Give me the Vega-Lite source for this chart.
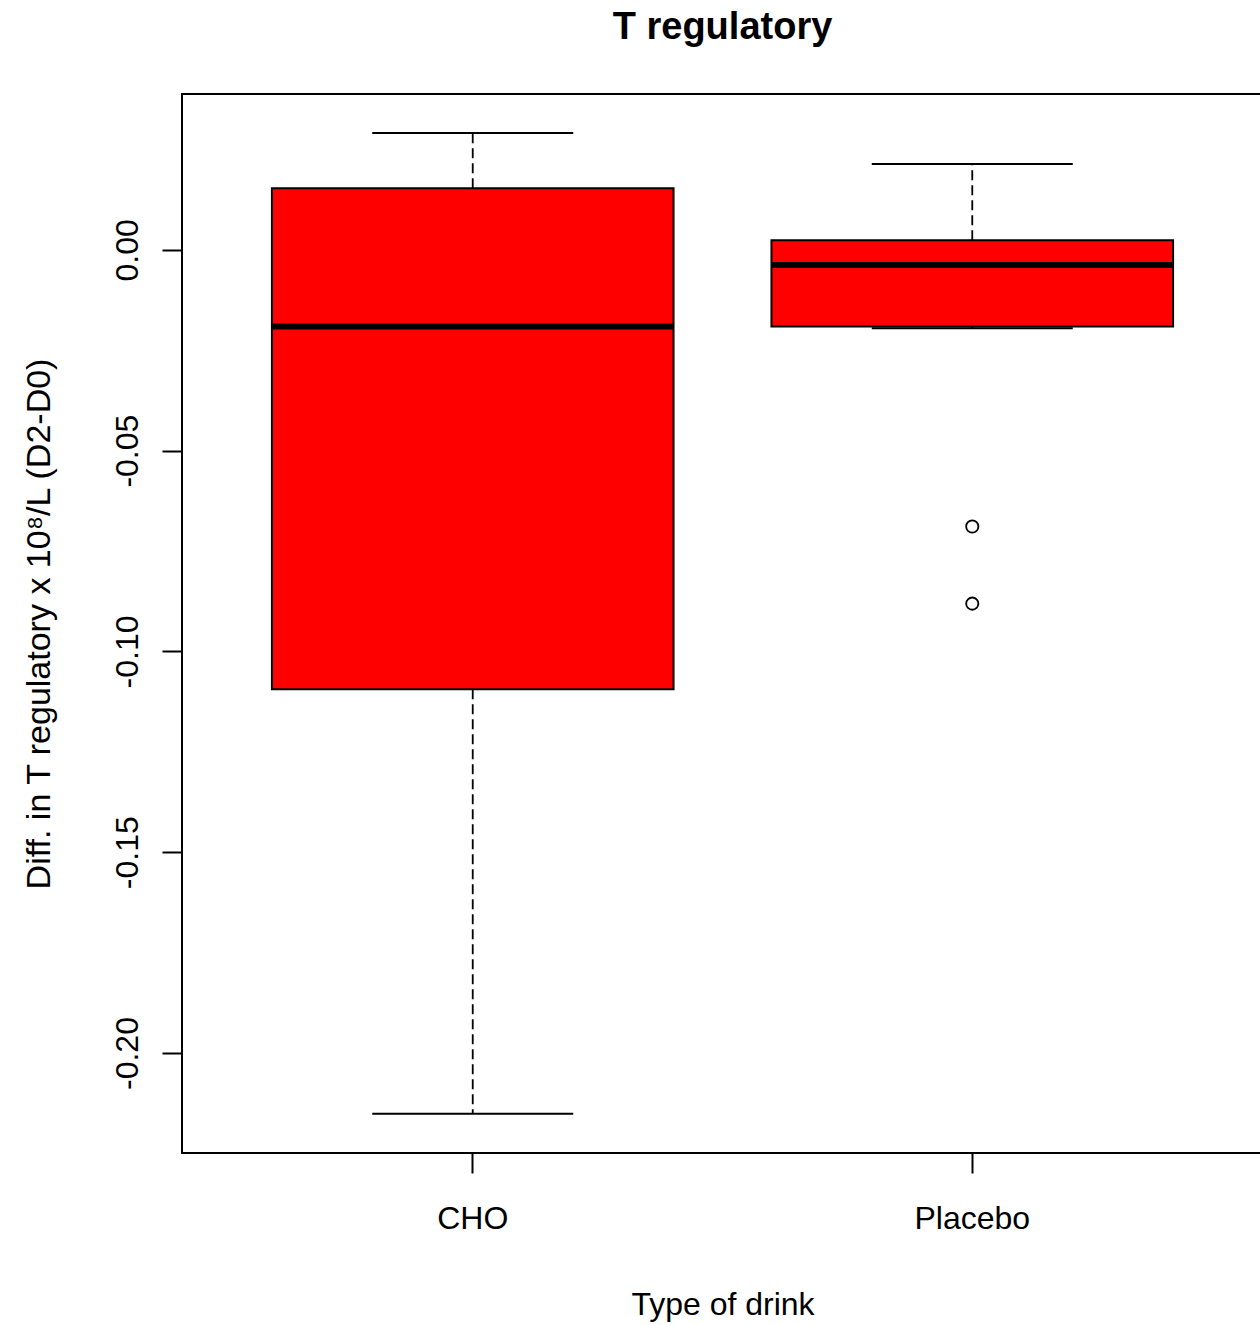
{
  "$schema": "https://vega.github.io/schema/vega-lite/v6.json",
  "width": 1081,
  "height": 1059,
  "autosize": "none",
  "padding": {"left": 182, "top": 94, "right": -3, "bottom": 172},
  "background": "white",
  "config": {
    "view": {"stroke": "black", "strokeWidth": 2},
    "font": "Liberation Sans"
  },
  "title": {
    "text": "T regulatory",
    "font": "Liberation Sans",
    "fontSize": 38,
    "fontWeight": "bold",
    "color": "black",
    "anchor": "middle",
    "baseline": "alphabetic",
    "offset": 17
  },
  "datasets": {
    "boxes": [
      {"drink": "CHO", "lower": -0.2151, "q1": -0.1094, "median": -0.0191, "q3": 0.0153, "upper": 0.0291},
      {"drink": "Placebo", "lower": -0.0195, "q1": -0.0191, "median": -0.0038, "q3": 0.0024, "upper": 0.0214}
    ],
    "outliers": [
      {"drink": "Placebo", "value": -0.0689},
      {"drink": "Placebo", "value": -0.0881}
    ]
  },
  "encoding": {
    "x": {
      "field": "drink",
      "type": "nominal",
      "sort": ["CHO", "Placebo"],
      "scale": {"paddingInner": 0.196, "paddingOuter": 0.18},
      "axis": {
        "title": "Type of drink",
        "titleFont": "Liberation Sans",
        "titleFontSize": 32,
        "titleFontWeight": "normal",
        "titleColor": "black",
        "titleBaseline": "alphabetic",
        "titleY": 161,
        "labelFont": "Liberation Sans",
        "labelFontSize": 32,
        "labelColor": "black",
        "labelAngle": 0,
        "labelPadding": 30,
        "tickSize": 20,
        "tickWidth": 2,
        "tickColor": "black",
        "domain": false,
        "grid": false
      }
    }
  },
  "layer": [
    {
      "data": {"name": "boxes"},
      "mark": {"type": "rule", "stroke": "black", "strokeWidth": 1.8, "strokeDash": [10, 5]},
      "encoding": {
        "y": {
          "field": "q3",
          "type": "quantitative",
          "title": "Diff. in T regulatory x 10⁸/L (D2-D0)",
          "scale": {"domain": [-0.2249, 0.0388], "nice": false, "zero": false},
          "axis": {
            "title": "Diff. in T regulatory x 10⁸/L (D2-D0)",
            "titleFont": "Liberation Sans",
            "titleFontSize": 34,
            "titleFontWeight": "normal",
            "titleColor": "black",
            "titleAngle": 270,
            "titleAlign": "center",
            "titleBaseline": "alphabetic",
            "titleX": -133,
            "titleY": 529.5,
            "values": [-0.2, -0.15, -0.1, -0.05, 0],
            "labelExpr": "replace(format(datum.value, '.2f'), '\u2212', '-')",
            "labelFont": "Liberation Sans",
            "labelFontSize": 32,
            "labelColor": "black",
            "labelAngle": 270,
            "labelAlign": "center",
            "labelBaseline": "alphabetic",
            "labelPadding": 25,
            "tickSize": 20,
            "tickWidth": 2,
            "tickColor": "black",
            "domain": false,
            "grid": false
          }
        },
        "y2": {"field": "upper"}
      }
    },
    {
      "data": {"name": "boxes"},
      "mark": {"type": "rule", "stroke": "black", "strokeWidth": 1.8, "strokeDash": [10, 5]},
      "encoding": {
        "y": {"field": "q1", "type": "quantitative", "title": "Diff. in T regulatory x 10⁸/L (D2-D0)"},
        "y2": {"field": "lower"}
      }
    },
    {
      "data": {"name": "boxes"},
      "mark": {"type": "tick", "color": "black", "opacity": 1, "thickness": 2, "size": 201},
      "encoding": {
        "y": {"field": "upper", "type": "quantitative", "title": "Diff. in T regulatory x 10⁸/L (D2-D0)"}
      }
    },
    {
      "data": {"name": "boxes"},
      "mark": {"type": "tick", "color": "black", "opacity": 1, "thickness": 2, "size": 201},
      "encoding": {
        "y": {"field": "lower", "type": "quantitative", "title": "Diff. in T regulatory x 10⁸/L (D2-D0)"}
      }
    },
    {
      "data": {"name": "boxes"},
      "mark": {"type": "bar", "fill": "#FF0000", "stroke": "black", "strokeWidth": 2, "opacity": 1},
      "encoding": {
        "y": {"field": "q1", "type": "quantitative", "title": "Diff. in T regulatory x 10⁸/L (D2-D0)"},
        "y2": {"field": "q3"}
      }
    },
    {
      "data": {"name": "boxes"},
      "mark": {"type": "tick", "color": "black", "opacity": 1, "thickness": 6, "size": 402},
      "encoding": {
        "y": {"field": "median", "type": "quantitative", "title": "Diff. in T regulatory x 10⁸/L (D2-D0)"}
      }
    },
    {
      "data": {"name": "outliers"},
      "mark": {"type": "point", "shape": "circle", "filled": false, "stroke": "black", "strokeWidth": 1.8, "size": 150, "opacity": 1},
      "encoding": {
        "y": {"field": "value", "type": "quantitative", "title": "Diff. in T regulatory x 10⁸/L (D2-D0)"}
      }
    }
  ]
}
